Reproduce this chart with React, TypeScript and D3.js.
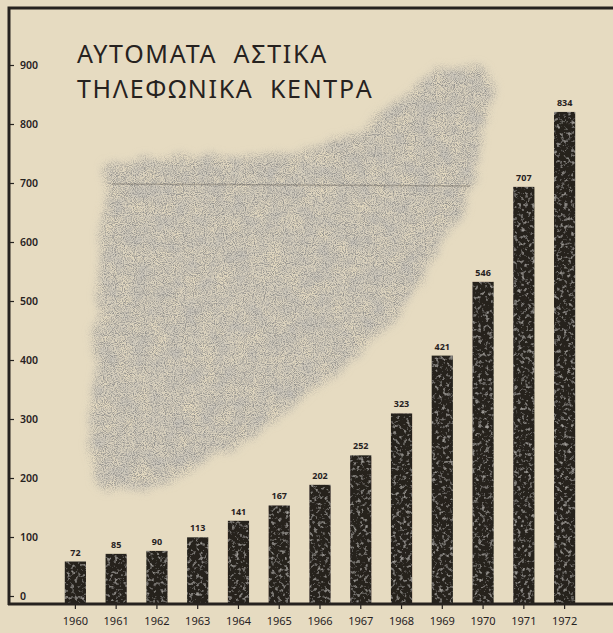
import React, { useRef, useEffect } from 'react'
import { select, scaleLinear, scaleBand, axisRight, axisBottom, line, curveCatmullRomClosed } from 'd3'

const years = ['1960', '1961', '1962', '1963', '1964', '1965', '1966', '1967', '1968', '1969', '1970', '1971', '1972']
const values = [72, 85, 90, 113, 141, 167, 202, 252, 323, 421, 546, 707, 834]
const yTicks = [0, 100, 200, 300, 400, 500, 600, 700, 800, 900]
const titleLines = ['ΑΥΤΟΜΑΤΑ  ΑΣΤΙΚΑ', 'ΤΗΛΕΦΩΝΙΚΑ  ΚΕΝΤΡΑ']

// rough outline of the speckled picture behind the bars (decoration only)
const blobOutline: [number, number][] = [
  [110, 165], [160, 158], [230, 157], [300, 152], [360, 130], [400, 100], [425, 78], [450, 68],
  [485, 72], [495, 95], [485, 130], [472, 190], [450, 235], [420, 280], [390, 320], [350, 362],
  [300, 400], [250, 438], [195, 468], [140, 490], [100, 488], [92, 440], [95, 350], [100, 260], [105, 200],
]

const W = 613
const H = 633
const paper = '#e6dbc1'
const ink = '#26221f'
const font = '"Noto Sans", "DejaVu Sans", sans-serif'

export default function App() {
  const canvas = useRef<SVGSVGElement>(null)

  useEffect(() => {
    document.body.style.margin = '0'
    const svg = select(canvas.current)
    svg.selectAll('*').remove()
    svg.attr('width', W).attr('height', H)

    const defs = svg.append('defs')

    // grain for the bars: sparse mottled lighter patches inside a dark fill
    const barF = defs.append('filter').attr('id', 'barGrain').attr('x', 0).attr('y', 0).attr('width', 1).attr('height', 1)
    barF.append('feTurbulence').attr('type', 'fractalNoise').attr('baseFrequency', 0.28).attr('numOctaves', 4).attr('seed', 7).attr('result', 'n')
    barF.append('feColorMatrix').attr('in', 'n').attr('type', 'matrix')
      .attr('values', '0 0 0 0 0.45  0 0 0 0 0.43  0 0 0 0 0.4  2.4 0 0 0 -1.3').attr('result', 'spots')
    barF.append('feComposite').attr('in', 'spots').attr('in2', 'SourceGraphic').attr('operator', 'in').attr('result', 'clip')
    const m = barF.append('feMerge')
    m.append('feMergeNode').attr('in', 'SourceGraphic')
    m.append('feMergeNode').attr('in', 'clip')

    // grain for the background picture
    const blobF = defs.append('filter').attr('id', 'blobGrain').attr('x', -0.1).attr('y', -0.1).attr('width', 1.2).attr('height', 1.2)
    blobF.append('feTurbulence').attr('type', 'fractalNoise').attr('baseFrequency', 0.04).attr('numOctaves', 2).attr('seed', 3).attr('result', 'warp')
    blobF.append('feDisplacementMap').attr('in', 'SourceGraphic').attr('in2', 'warp').attr('scale', 18).attr('xChannelSelector', 'R').attr('yChannelSelector', 'G').attr('result', 'disp')
    blobF.append('feGaussianBlur').attr('in', 'disp').attr('stdDeviation', 4).attr('result', 'shape')
    blobF.append('feTurbulence').attr('type', 'fractalNoise').attr('baseFrequency', 1.1).attr('numOctaves', 1).attr('seed', 11).attr('result', 'n')
    blobF.append('feColorMatrix').attr('in', 'n').attr('type', 'matrix')
      .attr('values', '0 0 0 0 0.3  0 0 0 0 0.29  0 0 0 0 0.27  3 0 0 0 -1.2').attr('result', 'spots')
    blobF.append('feTurbulence').attr('type', 'fractalNoise').attr('baseFrequency', 0.06).attr('numOctaves', 3).attr('seed', 5).attr('result', 'm')
    blobF.append('feColorMatrix').attr('in', 'm').attr('type', 'matrix')
      .attr('values', '0 0 0 0 0.55  0 0 0 0 0.53  0 0 0 0 0.49  1.2 0 0 0 -0.2').attr('result', 'tone')
    const bm = blobF.append('feMerge').attr('result', 'tex')
    bm.append('feMergeNode').attr('in', 'tone')
    bm.append('feMergeNode').attr('in', 'spots')
    blobF.append('feComposite').attr('in', 'tex').attr('in2', 'shape').attr('operator', 'in')

    svg.append('rect').attr('width', W).attr('height', H).attr('fill', paper)

    const blobLine = line().curve(curveCatmullRomClosed)
    svg.append('path').attr('d', blobLine(blobOutline)).attr('fill', '#000').attr('filter', 'url(#blobGrain)')
    svg.append('line').attr('x1', 112).attr('x2', 470).attr('y1', 184).attr('y2', 186)
      .attr('stroke', '#5e5850').attr('stroke-width', 1.5).attr('opacity', 0.35)

    const y = scaleLinear().domain([0, 900]).range([604, 73])
    const x = scaleBand().domain(years).range([55, 585]).paddingInner(0.48).paddingOuter(0.24)

    // title
    const title = svg.append('text').attr('font-family', font).attr('font-size', 25).attr('fill', ink).attr('letter-spacing', 1.7)
    titleLines.forEach((t, i) => {
      title.append('tspan').attr('x', 77).attr('y', 63 + i * 35).style('white-space', 'pre').text(t)
    })

    // bars
    svg.append('g').selectAll('rect').data(values).join('rect')
      .attr('x', (d, i) => x(years[i]))
      .attr('y', d => y(d))
      .attr('width', x.bandwidth())
      .attr('height', d => y(0) - y(d))
      .attr('fill', ink)
      .attr('filter', 'url(#barGrain)')

    svg.append('g').selectAll('text').data(values).join('text')
      .attr('x', (d, i) => x(years[i]) + x.bandwidth() / 2)
      .attr('y', d => y(d) - 6)
      .attr('text-anchor', 'middle')
      .attr('font-family', font).attr('font-size', 9).attr('font-weight', 700).attr('fill', ink)
      .text(d => d)

    // y axis: labels sit to the right of the frame line
    const yAxis = svg.append('g').attr('transform', 'translate(10,-8)')
      .call(axisRight(y).tickValues(yTicks).tickSize(4).tickPadding(6))
    yAxis.select('.domain').remove()
    yAxis.selectAll('line').attr('stroke', ink).attr('stroke-width', 1.2)
    yAxis.selectAll('text').attr('font-family', font).attr('font-size', 10.5).attr('font-weight', 600).attr('fill', ink)

    const xAxis = svg.append('g').attr('transform', 'translate(0,604)')
      .call(axisBottom(x).tickSize(5).tickPadding(8))
    xAxis.select('.domain').remove()
    xAxis.selectAll('line').attr('stroke', ink).attr('stroke-width', 1.2)
    xAxis.selectAll('text').attr('font-family', font).attr('font-size', 11).attr('fill', ink)

    // frame
    svg.append('path').attr('d', 'M9,605V8H613').attr('fill', 'none').attr('stroke', ink).attr('stroke-width', 3)
    svg.append('line').attr('x1', 8).attr('x2', 613).attr('y1', y(0)).attr('y2', y(0)).attr('stroke', ink).attr('stroke-width', 3)
  })

  return (
    <svg ref={canvas} style={{ display: 'block' }} />
  )
}
